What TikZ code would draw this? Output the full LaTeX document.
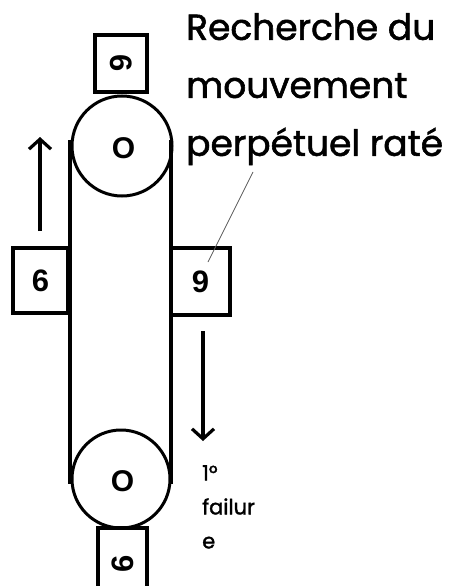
\documentclass[tikz,border=0pt]{standalone}
\usepackage{fontspec}
\setmainfont{Poppins}[FakeBold=1.6,UprightFont=*,BoldFont=*]
\newfontfamily\numfont{Liberation Sans}
\usetikzlibrary{arrows.meta}
\begin{document}
\begin{tikzpicture}[x=1pt,y=-1pt,
  thick line/.style={line width=3.6pt},
  wheel/.style={draw,circle,line width=3pt,minimum size=#1,inner sep=0pt},
  weight/.style={draw,line width=3.6pt,inner sep=0pt},
  digit/.style={font=\numfont\bfseries\fontsize{31}{31}\selectfont},
  axle/.style={font=\numfont\bfseries\fontsize{30}{30}\selectfont,inner sep=0pt},
  title/.style={font=\bfseries\fontsize{36}{58}\selectfont,align=left,anchor=north west,inner sep=0pt},
  note/.style={font=\bfseries\fontsize{21}{34}\selectfont,align=left,anchor=north west,inner sep=0pt},
  motion/.style={line width=3.2pt,-{Straight Barb[length=10pt,width=22pt,line width=3.2pt]}}]
\useasboundingbox (0,0) rectangle (452,586);
\clip (0,0) rectangle (452,586);
% wheels
\node[wheel=100pt] (topwheel) at (122,146) {};
\node[wheel=98pt] (botwheel) at (121,479) {};
\node[axle] (topaxle) at (123.5,148) {O};
\node[axle] (botaxle) at (122.5,481) {O};
% belt
\coordinate (belt lt) at (70,140);
\coordinate (belt lb) at (70,484);
\coordinate (belt rt) at (171,140);
\coordinate (belt rb) at (171,484);
\draw[thick line] (belt lt) -- (belt lb);
\draw[thick line] (belt rt) -- (belt rb);
% weights
\node[weight,minimum width=52pt,minimum height=57pt,digit] (wtop) at (121,63.5) {\rotatebox{-90}{6}};
\node[weight,minimum width=49pt,minimum height=72pt,digit] (wbot) at (122.5,564) {\rotatebox{90}{6}};
\node[weight,minimum width=55pt,minimum height=65pt,digit] (wleft) at (40.5,280.5) {6};
\node[weight,minimum width=59pt,minimum height=67pt,digit] (wright) at (200.5,281.5) {9};
% motion arrows
\coordinate (up start) at (40,231);
\coordinate (up end) at (40,137);
\coordinate (down start) at (203,331);
\coordinate (down end) at (203,441);
\draw[motion] (up start) -- (up end);
\draw[motion] (down start) -- (down end);
% texts
\node[title] (titletext) at (186,13) {Recherche du\\mouvement\\perpétuel raté};
\coordinate (callout start) at (253,172);
\coordinate (callout end) at (208,262);
\draw[gray!70!black,line width=0.8pt] (callout start) -- (callout end);
\node[note] (failtext) at (202,465) {1°\\failur\\e};
\end{tikzpicture}
\end{document}
